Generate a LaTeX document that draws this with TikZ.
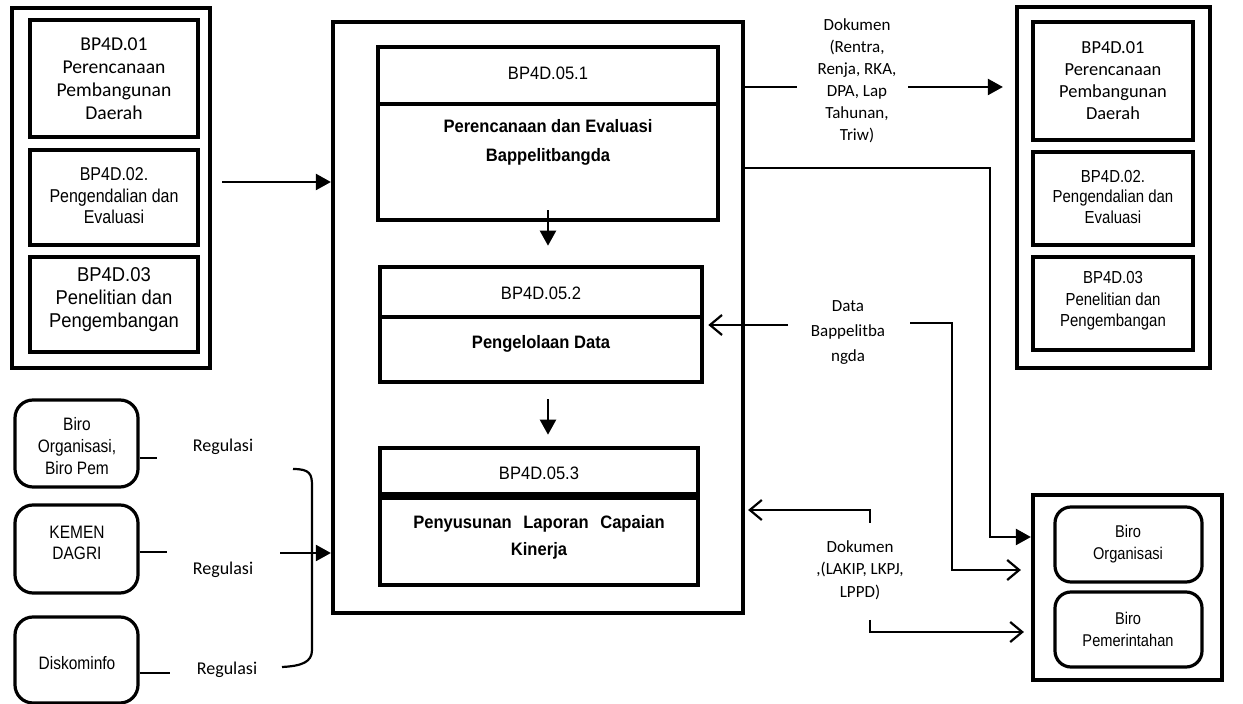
\documentclass[tikz,border=0pt]{standalone}
\usepackage{fontspec}
\setmainfont{Liberation Sans}
\newfontfamily\calfont{Carlito}
\newfontfamily\nfont[FakeStretch=0.86]{Liberation Sans}
\newfontfamily\mfont[FakeStretch=0.92]{Liberation Sans}
\usetikzlibrary{fit,arrows.meta}

\begin{document}
\begin{tikzpicture}[x=0.5pt,y=-0.5pt,
  grp/.style={draw,line width=2.1pt,inner sep=0pt},
  box/.style={draw,line width=2.3pt,inner sep=0pt},
  rbox/.style={draw,line width=1.6pt,rounded corners=8pt,inner sep=0pt},
  txt/.style={inner sep=0pt,align=center},
  cal/.style={font=\calfont\fontsize{9.8}{11.5}\selectfont},
  lbl/.style={txt,font=\calfont\fontsize{8.5}{11}\selectfont},
  nar/.style={font=\nfont\fontsize{9}{10.8}\selectfont},
  mreg/.style={font=\mfont\fontsize{9}{11}\selectfont},
  mbold/.style={font=\mfont\bfseries\fontsize{9}{14.5}\selectfont},
  conn/.style={line width=1.1pt},
  arr/.style={conn,-{Triangle[length=7.5pt,width=8pt]}},
  oarr/.style={conn,-{Straight Barb[length=6pt,width=10pt,line width=1.1pt]}}
]
\useasboundingbox (0,0) rectangle (1243,704);

% ---- left group of units
\node[grp,fit={(12,8) (210,368)}] (lgrp) {};
\node[box,fit={(30,20) (198,137)}] (l1) {};
\node[txt,cal] (l1t) at (114,79) {BP4D.01\\Perencanaan\\Pembangunan\\Daerah};
\node[box,fit={(30,150) (198,245)}] (l2) {};
\node[txt,font=\nfont\fontsize{9.3}{10.8}\selectfont] (l2t) at (114,196) {BP4D.02.\\Pengendalian dan\\Evaluasi};
\node[box,fit={(30,257) (198,352)}] (l3) {};
\node[txt,font=\mfont\fontsize{10}{11.5}\selectfont] (l3t) at (114,300) {BP4D.03\\Penelitian dan\\Pengembangan};

% ---- main unit
\node[grp,fit={(333,22) (743,613)}] (main) {};

\node[box,fit={(378,47) (718,104)}] (b1h) {};
\node[txt,mreg] (b1ht) at (548,73) {BP4D.05.1};
\node[box,fit={(378,104) (718,220)}] (b1b) {};
\node[txt,mbold] (b1t) at (548,142) {Perencanaan dan Evaluasi\\Bappelitbangda};

\node[box,fit={(380,267) (702,317)}] (b2h) {};
\node[txt,mreg] (b2ht) at (541,293) {BP4D.05.2};
\node[box,fit={(380,317) (702,382)}] (b2b) {};
\node[txt,mbold] (b2t) at (541,344) {Pengelolaan Data};

\node[box,fit={(380,448) (698,494)}] (b3h) {};
\node[txt,mreg] (b3ht) at (539,473) {BP4D.05.3};
\node[box,fit={(380,498) (698,585)}] (b3b) {};
\node[txt,font=\mfont\bfseries\fontsize{9}{13.5}\selectfont] (b3t) at (539,537)
  {Penyusunan\hspace{3.5pt} Laporan\hspace{3.5pt} Capaian\\Kinerja};

\draw[arr] ([yshift=6pt]b1b.south) -- ([yshift=9.5pt]b2h.north -| b1b.south);
\draw[arr] ([yshift=-7.5pt]b2b.south -| b1b.south) -- ([yshift=5.5pt]b3h.north -| b1b.south);

% ---- right group of units
\node[grp,fit={(1017,7) (1210,368)}] (rgrp) {};
\node[box,fit={(1033,22) (1193,140)}] (r1) {};
\node[txt,font=\calfont\fontsize{9.2}{11}\selectfont] (r1t) at (1113,81) {BP4D.01\\Perencanaan\\Pembangunan\\Daerah};
\node[box,fit={(1033,152) (1193,245)}] (r2) {};
\node[txt,font=\nfont\fontsize{8.7}{10.2}\selectfont] (r2t) at (1113,197) {BP4D.02.\\Pengendalian dan\\Evaluasi};
\node[box,fit={(1033,257) (1193,350)}] (r3) {};
\node[txt,font=\nfont\fontsize{8.7}{10.8}\selectfont] (r3t) at (1113,301) {BP4D.03\\Penelitian dan\\Pengembangan};

% ---- bureaus (lower right)
\node[grp,fit={(1033,495) (1222,680)}] (rbo) {};
\node[rbox,fit={(1055,507) (1202,582)}] (bo) {};
\node[txt,font=\nfont\fontsize{8.5}{11}\selectfont] (bot) at (1128,544) {Biro\\Organisasi};
\node[rbox,fit={(1055,592) (1202,667)}] (bp) {};
\node[txt,font=\nfont\fontsize{8.5}{11}\selectfont] (bpt) at (1128,629) {Biro\\Pemerintahan};

% ---- regulators (lower left)
\node[rbox,rounded corners=9pt,fit={(15,400) (138,487)}] (k1) {};
\node[txt,nar] (k1t) at (77,446) {Biro\\Organisasi,\\Biro Pem};
\node[rbox,rounded corners=9pt,fit={(15,505) (138,593)}] (k2) {};
\node[txt,nar] (k2t) at (77,543) {KEMEN\\DAGRI};
\node[rbox,rounded corners=9pt,fit={(15,617) (138,703)}] (k3) {};
\node[txt,nar] (k3t) at (77,663) {Diskominfo};

\node[lbl,font=\calfont\fontsize{9}{11}\selectfont] (g1) at (223,447) {Regulasi};
\node[lbl,font=\calfont\fontsize{9}{11}\selectfont] (g2) at (223,570) {Regulasi};
\node[lbl,font=\calfont\fontsize{9}{11}\selectfont] (g3) at (227,670) {Regulasi};

\coordinate (e1) at (157,458);
\coordinate (e2) at (167,552);
\coordinate (e3) at (170,673);
\draw[conn] (k1.east |- e1) -- (e1);
\draw[conn] (k2.east |- e2) -- (e2);
\draw[conn] (k3.east |- e3) -- (e3);

% brace gathering the regulations
\draw[conn] (293,469) .. controls (310,469) and (312,474) .. (312,486)
  -- (312,650) .. controls (312,662) and (302,666) .. (282,667);
\coordinate (rg) at (280,553);
\draw[arr] (rg) -- (rg -| main.west);

% ---- left group into main unit
\coordinate (la) at (222,182);
\draw[arr] (la) -- (la -| main.west);

% ---- documents to the right group
\node[lbl] (dok1) at (857,81) {Dokumen\\(Rentra,\\Renja, RKA,\\DPA, Lap\\Tahunan,\\Triw)};
\coordinate (d1) at (797,87);
\coordinate (d2) at (908,87);
\draw[conn] (main.east |- d1) -- (d1);
\draw[arr] (d2) -- ([xshift=-6pt]d2 -| rgrp.west);

% ---- main unit to Biro Organisasi
\coordinate (t1) at (990,168);
\coordinate (t2) at (990,537);
\draw[arr] (main.east |- t1) -- (t1) -- (t2) -- (t2 -| rbo.west);

% ---- data exchange
\node[lbl,font=\calfont\fontsize{8.5}{12.5}\selectfont] (dat) at (848,333) {Data\\Bappelitba\\ngda};
\coordinate (da) at (788,325);
\draw[oarr] (da) -- ([xshift=2pt]da -| b2b.east);
\coordinate (t3) at (910,323);
\coordinate (t4) at (952,323);
\coordinate (t5) at (952,570);
\draw[oarr] (t3) -- (t4) -- (t5) -- ([xshift=-5pt]t5 -| rbo.west);

% ---- performance reports
\node[lbl,font=\calfont\fontsize{8.5}{11.2}\selectfont] (dok2) at (860,570) {Dokumen\\,(LAKIP, LKPJ,\\LPPD)};
\coordinate (p1) at (870,523);
\coordinate (p2) at (870,510);
\draw[oarr] (p1) -- (p2) -- ([xshift=1.5pt]p2 -| main.east);
\coordinate (q1) at (870,620);
\coordinate (q2) at (870,632);
\draw[oarr] (q1) -- (q2) -- ([xshift=-3.5pt]q2 -| rbo.west);

\end{tikzpicture}
\end{document}
